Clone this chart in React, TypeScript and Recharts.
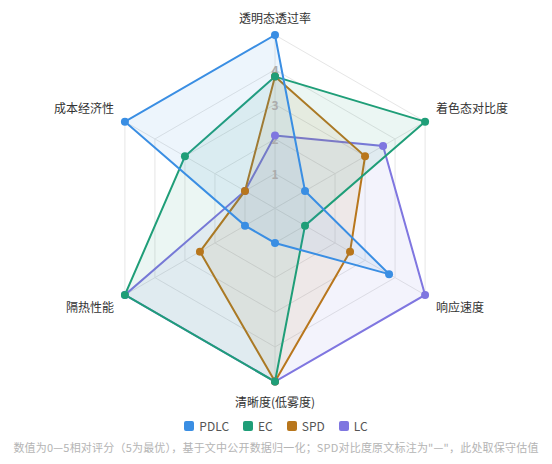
import React from 'react';
import {
  RadarChart,
  Radar,
  PolarGrid,
  PolarAngleAxis,
  PolarRadiusAxis,
  Legend,
} from 'recharts';

// evaluation dimensions (clockwise from top)
const dimensions = ['透明态透过率', '着色态对比度', '响应速度', '清晰度(低雾度)', '隔热性能', '成本经济性'];

// scores 0-5 per dimension
const pdlcScores = [5, 1, 3.8, 1, 1, 5];
const ecScores = [3.8, 5, 1, 5, 5, 3];
const spdScores = [3.8, 3, 2.5, 5, 2.5, 1];
const lcScores = [2.1, 3.6, 5, 5, 5, 1];

const radiusTicks = [0, 1, 2, 3, 4, 5];

const series = [
  { key: 'PDLC', color: '#3a8ee3' },
  { key: 'EC', color: '#1f9e78' },
  { key: 'SPD', color: '#b8761c' },
  { key: 'LC', color: '#7f76e0' },
];

const data = dimensions.map((name, i) => ({
  name,
  PDLC: pdlcScores[i],
  EC: ecScores[i],
  SPD: spdScores[i],
  LC: lcScores[i],
}));

const W = 536;
const H = 448;
const CX = 267;
const CY = 200.3;
const R = 173.3;
const FONT = '"Noto Sans CJK SC", "Noto Sans", sans-serif';

// where each axis name sits relative to the outer ring vertex
const labelOffsets = [
  { dx: 0, dy: -18, anchor: 'middle' },
  { dx: 11, dy: -14, anchor: 'start' },
  { dx: 11, dy: 12, anchor: 'start' },
  { dx: 0, dy: 20, anchor: 'middle' },
  { dx: -11, dy: 12, anchor: 'end' },
  { dx: -11, dy: -14, anchor: 'end' },
];

const AngleTick = (props: any) => {
  const i = props.index;
  const a = ((90 - 60 * i) * Math.PI) / 180;
  const px = CX + R * Math.cos(a);
  const py = CY - R * Math.sin(a);
  const o = labelOffsets[i];
  return (
    <text
      x={px + o.dx}
      y={py + o.dy}
      textAnchor={o.anchor}
      dominantBaseline="central"
      fontSize={12}
      fill="#333"
      fontFamily={FONT}
    >
      {props.payload.value}
    </text>
  );
};

const RadiusTick = (props: any) => {
  const v = props.payload.value;
  if (v === 0 || v === 5) return null;
  return (
    <text
      x={props.x}
      y={props.y}
      textAnchor="middle"
      dominantBaseline="central"
      fontSize={12}
      fontWeight={700}
      fill="#acacac"
      fontFamily={FONT}
    >
      {v}
    </text>
  );
};

const LegendContent = () => (
  <div
    style={{
      display: 'flex',
      justifyContent: 'center',
      alignItems: 'center',
      gap: 14,
      fontFamily: FONT,
      fontSize: 12,
      color: '#555',
    }}
  >
    {series.map((s) => (
      <div key={s.key} style={{ display: 'flex', alignItems: 'center', gap: 5 }}>
        <span
          style={{
            display: 'inline-block',
            width: 10,
            height: 10,
            borderRadius: 2,
            background: s.color,
          }}
        />
        <span>{s.key}</span>
      </div>
    ))}
  </div>
);

export default function App() {
  // later series sit on top: draw LC first, PDLC last
  const drawOrder = [...series].reverse();
  return (
    <div style={{ position: 'relative', width: W, height: H }}>
      <RadarChart
        width={W}
        height={H}
        data={data}
        cx={CX}
        cy={CY}
        outerRadius={R}
        margin={{ top: 0, right: 0, bottom: 0, left: 0 }}
      >
        <PolarGrid
          gridType="polygon"
          stroke="#e6e6e6"
          polarRadius={[1, 2, 3, 4, 5].map((v) => (R * v) / 5)}
        />
        <PolarAngleAxis dataKey="name" tick={<AngleTick />} tickLine={false} axisLine={false} />
        {drawOrder.map((s) => (
          <Radar
            key={s.key}
            name={s.key}
            dataKey={s.key}
            stroke={s.color}
            strokeWidth={2}
            fill={s.color}
            fillOpacity={0.09}
            dot={{ r: 4, fill: s.color, stroke: s.color, strokeWidth: 0, fillOpacity: 1 }}
            isAnimationActive={false}
          />
        ))}
        <PolarRadiusAxis
          angle={90}
          domain={[0, 5]}
          ticks={radiusTicks as any}
          tickCount={6}
          axisLine={false}
          tick={<RadiusTick />}
        />
        <Legend
          content={<LegendContent />}
          wrapperStyle={{ top: 409, left: 0, width: W }}
        />
      </RadarChart>
      <div
        style={{
          position: 'absolute',
          top: 432,
          left: 0,
          width: W,
          textAlign: 'center',
          fontFamily: FONT,
          fontSize: 11,
          letterSpacing: '0.2px',
          lineHeight: '15px',
          color: '#b4b4b4',
          whiteSpace: 'nowrap',
        }}
      >
        数值为0—5相对评分（5为最优），基于文中公开数据归一化；SPD对比度原文标注为"—"，此处取保守估值
      </div>
    </div>
  );
}
